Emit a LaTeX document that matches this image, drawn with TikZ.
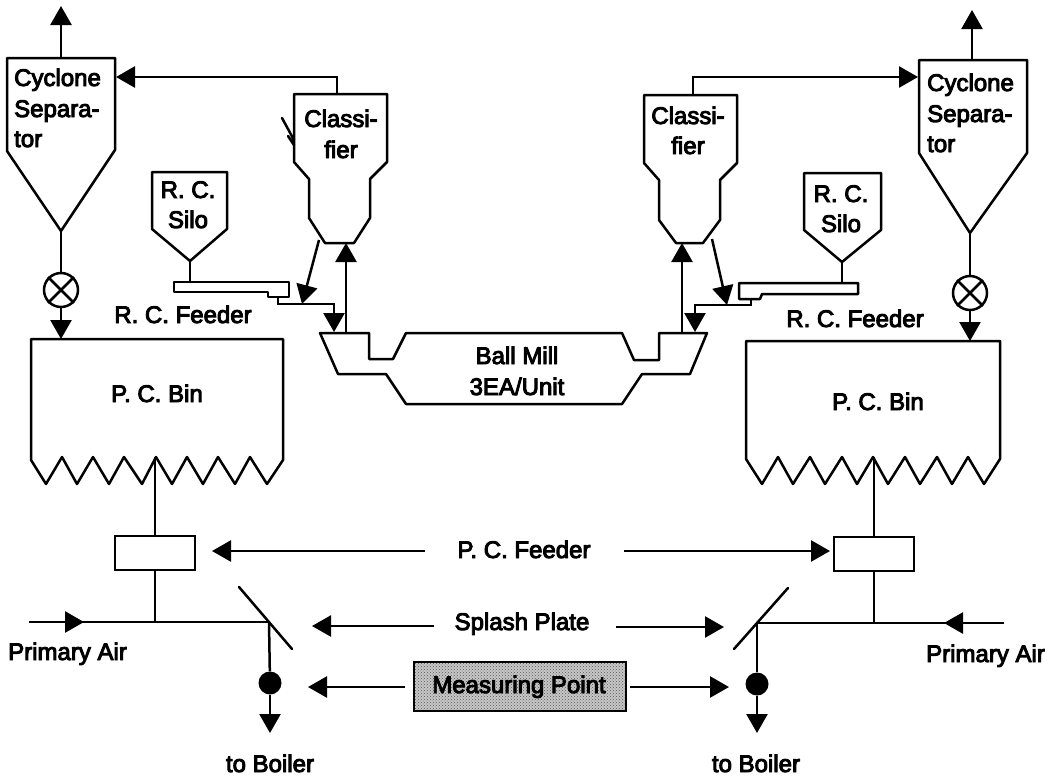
\documentclass[tikz,border=0pt]{standalone}
\usepackage{fontspec}
\setmainfont{Liberation Sans}[BoldFont={Liberation Sans},BoldFeatures={FakeBold=4}]
\usetikzlibrary{arrows.meta,patterns}
\tikzset{
  x=1pt,y=-1pt,
  shape line/.style={line width=2.5pt,line join=round,line cap=round},
  flow/.style={line width=2.5pt,-{Triangle[length=19pt,width=21pt]}},
  pipe/.style={line width=2.5pt},
  lbl/.style={inner sep=0pt,font=\fontsize{24}{28}\selectfont\bfseries},
  ctext/.style={lbl,anchor=base},
  ltext/.style={lbl,anchor=base west},
  box/.style={draw,line width=2.5pt,fill=white,minimum width=80pt,minimum height=34pt,inner sep=0pt},
  valve/.style={circle,draw,line width=2.5pt,fill=white,minimum size=34pt,inner sep=0pt},
  dot/.style={circle,fill=black,minimum size=23pt,inner sep=0pt},
  mpoint/.style={draw,line width=2.5pt,minimum width=212pt,minimum height=49pt,inner sep=0pt,
    preaction={fill=black!22},pattern=crosshatch dots,pattern color=black!65}
}
\begin{document}
\begin{tikzpicture}
\useasboundingbox (0,0) rectangle (1053,779);
% ---------- left side shapes
\draw[shape line] (7,58) -- (115,58) -- (115,150) -- (61,231) -- (7,151) -- cycle;
\draw[shape line] (294,94) -- (387,94) -- (387,162) -- (370,179) -- (370,218) -- (354,243) -- (325,243) -- (309,218) -- (309,179) -- (294,162) -- cycle;
\draw[shape line] (282,118) -- (294,140) (288,136) -- (294,145);
\draw[shape line] (152,172) -- (227,172) -- (227,229) -- (190,261) -- (152,229) -- cycle;
\draw[shape line] (174,282) -- (289,282) -- (289,297) -- (268,297) -- (268,292) -- (174,292) -- cycle;
\draw[shape line] (31,339) -- (283,339) -- (283,460) -- (267,484) -- (250,457) -- (235,484) -- (218,457) -- (203,484) -- (187,457) -- (172,484) -- (156,457) -- (142,484) -- (124,457) -- (109,484) -- (93,457) -- (77,484) -- (62,457) -- (46,484) -- (31,460) -- cycle;
% ---------- right side shapes
\draw[shape line] (919,60) -- (1027,60) -- (1027,153) -- (970,233) -- (919,153) -- cycle;
\draw[shape line] (644,95) -- (737,95) -- (737,163) -- (720,180) -- (720,220) -- (703,243) -- (676,243) -- (659,220) -- (659,180) -- (644,163) -- cycle;
\draw[shape line] (804,173) -- (881,173) -- (881,230) -- (842,262) -- (804,230) -- cycle;
\draw[shape line] (739,283) -- (858,283) -- (858,294) -- (762,294) -- (760,299) -- (739,299) -- cycle;
\draw[shape line] (746,341) -- (1000,341) -- (1000,459) -- (984,484) -- (968,457) -- (952,484) -- (937,457) -- (920,484) -- (905,457) -- (888,484) -- (873,457) -- (857,484) -- (842,457) -- (825,484) -- (810,457) -- (793,484) -- (778,457) -- (762,484) -- (746,459) -- cycle;
% ---------- ball mill
\draw[shape line] (320,333) -- (369,333) -- (369,359) -- (393,359) -- (406,333) -- (622,333) -- (634,360) -- (659,360) -- (659,333) -- (707,333) -- (690,374) -- (642,374) -- (622,404) -- (406,404) -- (386,374) -- (338,374) -- cycle;
% ---------- boxes and markers
\node[box] (feedL) at (155,553) {};
\node[box] (feedR) at (874,554) {};
\node[valve] (valL) at (61,290) {};
\node[valve] (valR) at (970,293) {};
\draw[pipe] (valL.45) -- (valL.225) (valL.135) -- (valL.315);
\draw[pipe] (valR.45) -- (valR.225) (valR.135) -- (valR.315);
\node[dot] (dotL) at (270,683) {};
\node[dot] (dotR) at (757,684) {};
\node[mpoint] (mp) at (520,686.5) {};
% ---------- named connection points
\coordinate (cycLtop) at (61,58);   \coordinate (cycLout) at (61,6);
\coordinate (cycLtip) at (61,231);  \coordinate (binLin) at (61,339);
\coordinate (cycRtop) at (972,60);  \coordinate (cycRout) at (972,10);
\coordinate (cycRtip) at (970,233); \coordinate (binRin) at (970,341);
\coordinate (clLtop) at (337,94);   \coordinate (clLbend) at (337,77); \coordinate (cycLin) at (116,77);
\coordinate (clRtop) at (693,95);   \coordinate (clRbend) at (693,77); \coordinate (cycRin) at (918,77);
\coordinate (siLtip) at (190,261);  \coordinate (fdLtop) at (190,282);
\coordinate (siRtip) at (842,262);  \coordinate (fdRtop) at (842,283);
\coordinate (fdLout) at (278,297);  \coordinate (fdLa) at (278,304); \coordinate (fdLb) at (334,304); \coordinate (mlLin) at (334,332);
\coordinate (fdRout) at (751,299);  \coordinate (fdRa) at (751,305); \coordinate (fdRb) at (695,305); \coordinate (mlRin) at (695,332);
\coordinate (clLrej) at (319,240);  \coordinate (rejL) at (302,304);
\coordinate (clRrej) at (712,239);  \coordinate (rejR) at (727,305);
\coordinate (mlLup) at (346,333);   \coordinate (clLin) at (346,243);
\coordinate (mlRup) at (682,333);   \coordinate (clRin) at (682,243);
\coordinate (binLout) at (155,457); \coordinate (binRout) at (874,457);
\coordinate (airLs) at (29,622);    \coordinate (airLj) at (155,622); \coordinate (airLe) at (269,622); \coordinate (airLa) at (84,622);
\coordinate (airRs) at (1004,623);  \coordinate (airRj) at (874,623); \coordinate (airRe) at (757,623); \coordinate (airRa) at (944,623);
\coordinate (plLa) at (239,587);    \coordinate (plLb) at (292,649);
\coordinate (plRa) at (788,588);    \coordinate (plRb) at (734,649);
\coordinate (outL) at (270,733);    \coordinate (outR) at (757,733);
\coordinate (fa) at (425,551);      \coordinate (fb) at (212,551);
\coordinate (fc) at (624,551);      \coordinate (fd) at (830,551);
\coordinate (sa) at (434,626);      \coordinate (sb) at (312,626);
\coordinate (sc) at (616,627);      \coordinate (sd) at (724,627);
\coordinate (ma) at (405,687);      \coordinate (mb) at (308,687);
\coordinate (mc) at (630,687);      \coordinate (md) at (729,687);
% ---------- connectors
\draw[flow] (cycLtop) -- (cycLout);
\draw[flow] (cycRtop) -- (cycRout);
\draw[pipe] (cycLtip) -- (valL);
\draw[pipe] (cycRtip) -- (valR);
\draw[flow] (valL) -- (binLin);
\draw[flow] (valR) -- (binRin);
\draw[flow] (clLtop) -- (clLbend) -- (cycLin);
\draw[flow] (clRtop) -- (clRbend) -- (cycRin);
\draw[pipe] (siLtip) -- (fdLtop);
\draw[pipe] (siRtip) -- (fdRtop);
\draw[flow] (fdLout) -- (fdLa) -- (fdLb) -- (mlLin);
\draw[flow] (fdRout) -- (fdRa) -- (fdRb) -- (mlRin);
\draw[flow] (clLrej) -- (rejL);
\draw[flow] (clRrej) -- (rejR);
\draw[flow] (mlLup) -- (clLin);
\draw[flow] (mlRup) -- (clRin);
\draw[pipe] (binLout) -- (feedL);
\draw[pipe] (binRout) -- (feedR);
\draw[pipe] (feedL) -- (airLj);
\draw[pipe] (feedR) -- (airRj);
\draw[pipe] (airLs) -- (airLe);
\draw[pipe] (airRs) -- (airRe);
\draw[flow] (airLs) -- (airLa);
\draw[flow] (airRs) -- (airRa);
\draw[pipe,line cap=round] (plLa) -- (plLb);
\draw[pipe,line cap=round] (plRa) -- (plRb);
\draw[pipe] (airLe) -- (dotL);
\draw[pipe] (airRe) -- (dotR);
\draw[flow] (dotL) -- (outL);
\draw[flow] (dotR) -- (outR);
\draw[flow] (fa) -- (fb);
\draw[flow] (fc) -- (fd);
\draw[flow] (sa) -- (sb);
\draw[flow] (sc) -- (sd);
\draw[flow] (ma) -- (mb);
\draw[flow] (mc) -- (md);
% ---------- texts
\node[ltext] (t1) at (14,86) {Cyclone};
\node[ltext] (t2) at (14,117) {Separa-};
\node[ltext] (t3) at (14,147) {tor};
\node[ltext] (t4) at (927,91) {Cyclone};
\node[ltext] (t5) at (927,122) {Separa-};
\node[ltext] (t6) at (927,152) {tor};
\node[ctext] (t7) at (341,127) {Classi-};
\node[ctext] (t8) at (341,158) {fier};
\node[ctext] (t9) at (688,124) {Classi-};
\node[ctext] (t10) at (688,154) {fier};
\node[ctext] (t11) at (188,198) {R. C.};
\node[ctext] (t12) at (188,228) {Silo};
\node[ctext] (t13) at (841,202) {R. C.};
\node[ctext] (t14) at (841,232) {Silo};
\node[ctext] (t15) at (183,323) {R. C. Feeder};
\node[ctext] (t16) at (855,327) {R. C. Feeder};
\node[ctext] (t17) at (157,402) {P. C. Bin};
\node[ctext] (t18) at (878,410) {P. C. Bin};
\node[ctext] (t19) at (517,364) {Ball Mill};
\node[ctext] (t20) at (517,395) {3EA/Unit};
\node[ctext] (t21) at (524,558) {P. C. Feeder};
\node[ctext] (t22) at (522,630) {Splash Plate};
\node[ctext] (t23) at (519,693) {Measuring Point};
\node[ltext] (t24) at (8,660) {Primary Air};
\node[ltext] (t25) at (926,662) {Primary Air};
\node[ctext] (t26) at (270,772) {to Boiler};
\node[ctext] (t27) at (756,772) {to Boiler};
\end{tikzpicture}
\end{document}
